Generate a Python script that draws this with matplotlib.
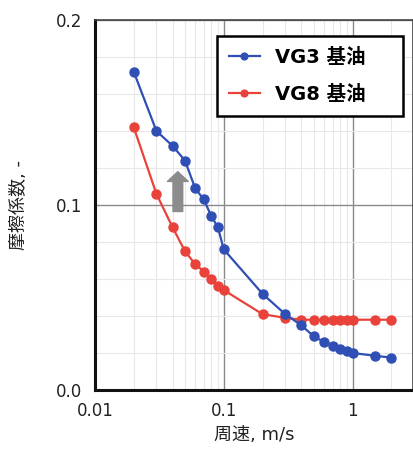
import numpy as np
import matplotlib.pyplot as plt
from matplotlib.ticker import MultipleLocator, FixedLocator, NullFormatter

plt.rcParams['font.family'] = ['DejaVu Sans', 'Noto Sans CJK JP']

# 周速 [m/s]
speed_vg3 = [0.02, 0.03, 0.04, 0.05, 0.06, 0.07, 0.08, 0.09, 0.1, 0.2, 0.3,
             0.4, 0.5, 0.6, 0.7, 0.8, 0.9, 1.0, 1.5, 2.0]
mu_vg3 = [0.172, 0.140, 0.132, 0.124, 0.109, 0.103, 0.094, 0.088, 0.076, 0.052, 0.041,
          0.035, 0.029, 0.026, 0.024, 0.022, 0.021, 0.020, 0.0185, 0.0175]

speed_vg8 = [0.02, 0.03, 0.04, 0.05, 0.06, 0.07, 0.08, 0.09, 0.1, 0.2, 0.3,
             0.4, 0.5, 0.6, 0.7, 0.8, 0.9, 1.0, 1.5, 2.0]
mu_vg8 = [0.142, 0.106, 0.088, 0.075, 0.068, 0.064, 0.060, 0.056, 0.054, 0.041, 0.039,
          0.038, 0.038, 0.038, 0.038, 0.038, 0.038, 0.038, 0.038, 0.038]

blue = '#2f4fb5'
red = '#e8423a'

fig = plt.figure(figsize=(4.14, 4.54), dpi=100)
ax = fig.add_axes([95 / 414, 1 - 390 / 454, 318 / 414, 370 / 454])

ax.plot(speed_vg3, mu_vg3, '-o', color=blue, lw=1.6, ms=6.5, label='VG3 基油', zorder=4)
ax.plot(speed_vg8, mu_vg8, '-o', color=red, lw=1.6, ms=6.5, label='VG8 基油', zorder=3)

# 灰色の矢印
ax.annotate('', xy=(0.044, 0.118), xytext=(0.044, 0.0965),
            arrowprops=dict(arrowstyle='simple,head_length=7,head_width=15,tail_width=7',
                            mutation_scale=1, color='#8c8c8c', shrinkA=0, shrinkB=0),
            zorder=2)

ax.set_xscale('log')
ax.set_xlim(0.01, 2.95)
ax.set_ylim(0, 0.2)

ax.xaxis.set_major_locator(FixedLocator([0.01, 0.1, 1]))
ax.set_xticklabels(['0.01', '0.1', '1'])
ax.xaxis.set_minor_locator(FixedLocator([m * d for d in (0.01, 0.1, 1) for m in range(2, 10)]))
ax.xaxis.set_minor_formatter(NullFormatter())
ax.yaxis.set_minor_locator(MultipleLocator(0.02))
ax.set_yticks([0, 0.1, 0.2])
ax.set_yticklabels(['0.0', '0.1', '0.2'])

ax.grid(which='major', color='#8a8a8a', lw=1.0, zorder=0)
ax.grid(which='minor', color='#e8e8e8', lw=0.8, zorder=0)
ax.set_axisbelow(True)

ax.tick_params(which='both', length=0, labelsize=12, colors='#222222', pad=9)

for side in ('left', 'bottom'):
    ax.spines[side].set_linewidth(2.2)
    ax.spines[side].set_color('#111111')
for side in ('top', 'right'):
    ax.spines[side].set_linewidth(1.2)
    ax.spines[side].set_color('#444444')

ax.set_xlabel('周速, m/s', fontsize=13, color='#222222', labelpad=4)
ax.set_ylabel('摩擦係数, -', fontsize=13, color='#222222', labelpad=20)

leg = ax.legend(loc='upper left', bbox_to_anchor=(0.384, 0.957, 0.585, 0.0),
                mode='expand', borderaxespad=0,
                fancybox=False, framealpha=1, edgecolor='black',
                prop={'size': 14, 'weight': 'bold'}, handlelength=1.6,
                handletextpad=0.8, labelspacing=0.95, markerscale=0.75,
                borderpad=0.6)
leg.get_frame().set_linewidth(1.8)

fig.savefig('out.png', dpi=100)
